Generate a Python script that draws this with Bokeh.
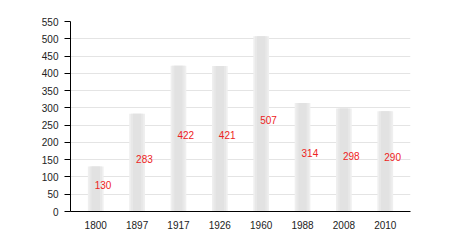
from bokeh.plotting import figure
from bokeh.models import FactorRange, Range1d, ColumnDataSource, FixedTicker
from bokeh.core.properties import value
from bokeh.embed import file_html
from bokeh.resources import INLINE

years = ["1800", "1897", "1917", "1926", "1960", "1988", "2008", "2010"]
population = [130, 283, 422, 421, 507, 314, 298, 290]
y_ticks = [0, 50, 100, 150, 200, 250, 300, 350, 400, 450, 500, 550]

src = ColumnDataSource(dict(
    x=years,
    top=population,
    mid=[v / 2 for v in population],
    label=[str(v) for v in population],
))

p = figure(
    width=450, height=250,
    x_range=FactorRange(*years, range_padding=0.11, range_padding_units="absolute"),
    y_range=Range1d(0, 550),
    output_backend="svg", toolbar_location=None,
    min_border_left=70, min_border_right=40, min_border_top=21, min_border_bottom=39,
)
p.outline_line_color = None
p.background_fill_color = "white"
p.border_fill_color = "white"

# gradient-like bars
p.vbar(x="x", top="top", width=0.38, source=src, fill_color="#efefef", line_color=None)
p.vbar(x="x", top="top", width=0.30, source=src, fill_color="#e8e8e8", line_color=None)
p.vbar(x="x", top="top", width=0.20, source=src, fill_color="#e2e2e2", line_color=None)

p.text(x="x", y="mid", text="label", source=src,
       text_font=value("Liberation Sans"), text_font_size="10px",
       text_color="#ee2222", text_align="left", text_baseline="middle",
       x_offset=-1, y_offset=-4)

p.xgrid.grid_line_color = None
p.ygrid.grid_line_color = "#e4e4e4"
p.ygrid.ticker = FixedTicker(ticks=y_ticks)

p.yaxis.ticker = FixedTicker(ticks=y_ticks)
p.yaxis.axis_line_color = "black"
p.yaxis.major_tick_line_color = "black"
p.yaxis.major_tick_out = 6
p.yaxis.major_tick_in = 0
p.yaxis.minor_tick_line_color = None
p.yaxis.major_label_text_font = "Liberation Sans"
p.yaxis.major_label_text_font_size = "10px"
p.yaxis.major_label_text_color = "#222222"
p.yaxis.major_label_standoff = 6

p.xaxis.axis_line_color = "black"
p.xaxis.major_tick_line_color = None
p.xaxis.minor_tick_line_color = None
p.xaxis.major_label_text_font = "Liberation Sans"
p.xaxis.major_label_text_font_size = "10px"
p.xaxis.major_label_text_color = "#222222"
p.xaxis.major_label_standoff = 3

open("out.html", "w").write(file_html(p, INLINE))
